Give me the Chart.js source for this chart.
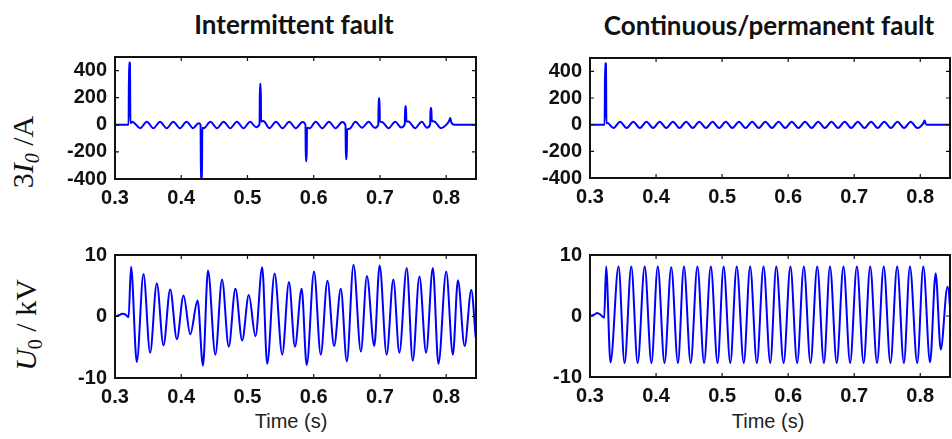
<!DOCTYPE html>
<html>
<head>
<meta charset="utf-8">
<script src="https://cdn.jsdelivr.net/npm/chart.js@4"></script>
<style>
body{margin:0;background:#fff;width:952px;height:439px;overflow:hidden;position:relative;font-family:"Liberation Sans",Arial,sans-serif;}
canvas{position:absolute;}
.ttl{position:absolute;font-family:Lato,"Open Sans",sans-serif;font-weight:700;font-size:26px;color:#111;transform:translate(-50%,-50%);white-space:nowrap;}
.ylab{position:absolute;font-family:"Liberation Serif","DejaVu Serif",serif;font-size:30px;color:#111;transform:translate(-50%,-50%) rotate(-90deg);white-space:nowrap;}
.ylab sub{font-size:20px;vertical-align:-6px;}
.xlab{position:absolute;font-size:20px;color:#222;transform:translate(-50%,-50%);white-space:nowrap;}
</style>
</head>
<body>
<div class="ttl" style="left:294px;top:24px">Intermittent fault</div>
<div class="ttl" style="left:769px;top:25px">Continuous/permanent fault</div>
<div class="ylab" style="left:25px;top:152px">3<i>I</i><sub><i>0</i></sub> /A</div>
<div class="ylab" style="left:28px;top:325px"><i>U</i><sub>0</sub> / kV</div>
<div class="xlab" style="left:291px;top:421px">Time (s)</div>
<div class="xlab" style="left:768px;top:421px">Time (s)</div>
<canvas id="c1" width="446" height="180" style="left:40px;top:37px"></canvas>
<canvas id="c2" width="445" height="178" style="left:515px;top:38px"></canvas>
<canvas id="c3" width="446" height="181" style="left:40px;top:235px"></canvas>
<canvas id="c4" width="445" height="180" style="left:515px;top:235px"></canvas>
<script>
// time axis ticks (s) and value ticks
const timeTicks=[0.3,0.4,0.5,0.6,0.7,0.8];
const currentTicks=[-400,-200,0,200,400];
const voltageTicks=[-10,0,10];

// 3I0 intermittent fault (A)
const tIA=[0.300,0.3205,0.3212,0.3226,0.3232,0.326,0.338,0.348,0.358,0.368,0.378,0.388,0.398,0.408,0.418,0.426,0.4292,0.4298,0.4312,0.4318,0.434,0.444,0.454,0.464,0.474,0.484,0.494,0.504,0.513,0.5182,0.5188,0.5200,0.5206,0.524,0.533,0.543,0.553,0.563,0.573,0.583,0.5875,0.5881,0.5893,0.5899,0.594,0.603,0.613,0.623,0.633,0.643,0.648,0.6486,0.6498,0.6504,0.654,0.663,0.673,0.683,0.692,0.6975,0.6981,0.6993,0.6999,0.703,0.713,0.723,0.732,0.7375,0.7381,0.7393,0.7399,0.743,0.753,0.763,0.771,0.7758,0.7764,0.7776,0.7782,0.782,0.792,0.801,0.8045,0.806,0.808,0.812,0.845];
const iA=[0,0,460,455,12,22,-25,22,-25,22,-25,22,-25,22,-25,12,0,-430,-430,-22,-25,22,-25,22,-25,22,-25,22,-18,5,300,300,25,28,-25,22,-25,22,-25,20,0,-268,-268,-22,-25,22,-25,22,-25,20,-5,-252,-252,-35,-30,22,-22,22,-22,0,195,195,25,20,-25,22,-20,5,136,136,25,25,-25,22,-22,5,123,123,28,25,-25,5,30,50,15,0,0];

// 3I0 continuous fault (A)
const tIB=[0.300,0.3222,0.3228,0.3242,0.3248,0.326,0.3355,0.3455,0.3555,0.3655,0.3755,0.3855,0.3955,0.4055,0.4155,0.4255,0.4355,0.4455,0.4555,0.4655,0.4755,0.4855,0.4955,0.5055,0.5155,0.5255,0.5355,0.5455,0.5555,0.5655,0.5755,0.5855,0.5955,0.6055,0.6155,0.6255,0.6355,0.6455,0.6555,0.6655,0.6755,0.6855,0.6955,0.7055,0.7155,0.7255,0.7355,0.7455,0.7555,0.7655,0.7755,0.7855,0.7955,0.8045,0.8065,0.808,0.810,0.845];
const iB=[0,0,460,455,10,15,-25,22,-25,22,-25,22,-25,22,-25,22,-25,22,-25,22,-25,22,-25,22,-25,22,-25,22,-25,22,-25,22,-25,22,-25,22,-25,22,-25,22,-25,22,-25,22,-25,22,-25,22,-25,22,-25,22,-25,10,32,8,0,0];

// U0 intermittent fault (kV)
const tUA=[0.300,0.306,0.311,0.316,0.3205,0.3242,0.3329,0.343,0.353,0.3631,0.3732,0.3833,0.3934,0.4035,0.4136,0.4247,0.4328,0.4404,0.4515,0.4616,0.4717,0.4818,0.492,0.502,0.5121,0.5222,0.5298,0.5409,0.5525,0.5626,0.5717,0.5818,0.5894,0.6005,0.6106,0.6207,0.6308,0.6409,0.650,0.6601,0.6712,0.6803,0.6914,0.6995,0.7101,0.7202,0.7293,0.7404,0.7495,0.7596,0.7697,0.7798,0.7883,0.800,0.8101,0.8177,0.8278,0.8379,0.8445];
const uA=[0,0.2,0.45,0.3,-0.1,8.1,-7.4,6.9,-5.9,5.4,-4.7,4.4,-3.7,3.4,-2.9,2.6,-8.0,7.5,-6.2,6.0,-4.9,4.5,-3.9,3.5,-3.2,8.0,-7.7,7.0,-6.2,5.6,-4.9,4.5,-7.9,7.3,-6.2,5.8,-4.8,4.5,-7.3,8.4,-5.7,6.6,-4.8,8.3,-6.2,6.0,-5.9,7.9,-7.2,6.5,-5.9,7.9,-7.7,7.3,-6.2,5.9,-4.8,4.3,-3.4];

// U0 continuous fault (kV)
const tUB=[0.300,0.306,0.311,0.316,0.3215,0.3244,0.331,0.3432,0.3523,0.3625,0.3721,0.3828,0.393,0.4026,0.4128,0.423,0.4331,0.4422,0.4524,0.4626,0.4727,0.4829,0.4931,0.5023,0.5124,0.5221,0.5328,0.5424,0.5526,0.5627,0.5729,0.582,0.5931,0.6034,0.6136,0.6237,0.6338,0.644,0.6541,0.6633,0.6735,0.6837,0.6938,0.704,0.7142,0.7242,0.7345,0.7447,0.7548,0.765,0.7752,0.7843,0.7954,0.8046,0.8148,0.8233,0.831,0.8412,0.8488];
const uB=[0,0.2,0.5,0.2,-0.3,8.1,-7.6,8.1,-7.7,8.1,-7.7,8.1,-7.7,8.1,-7.7,8.0,-7.7,8.1,-7.7,8.1,-7.7,8.1,-7.7,8.1,-7.7,8.1,-7.7,8.1,-7.7,8.1,-7.7,8.1,-7.7,8.1,-7.7,8.1,-7.7,8.1,-7.7,8.1,-7.7,8.1,-7.7,8.1,-7.7,8.1,-7.7,8.1,-7.7,8.1,-7.7,8.1,-7.7,8.1,-7.6,7.0,-5.5,4.8,-4.2];

Chart.defaults.font.family='"Liberation Sans", Arial, sans-serif';
Chart.defaults.font.size=20;
Chart.defaults.color='#111';

// matlab-like box with inward ticks
const boxPlugin={
    id:'box',
    afterDraw(chart){
        const {ctx,chartArea:a,scales}=chart;
        ctx.save();
        ctx.strokeStyle='#111';
        ctx.lineWidth=1.2;
        ctx.beginPath();
        scales.x.ticks.forEach(t=>{
            const px=scales.x.getPixelForValue(t.value);
            ctx.moveTo(px,a.bottom);ctx.lineTo(px,a.bottom-4);
            ctx.moveTo(px,a.top);ctx.lineTo(px,a.top+4);
        });
        scales.y.ticks.forEach(t=>{
            const py=scales.y.getPixelForValue(t.value);
            ctx.moveTo(a.left,py);ctx.lineTo(a.left+4,py);
            ctx.moveTo(a.right,py);ctx.lineTo(a.right-4,py);
        });
        ctx.stroke();
        ctx.lineWidth=2;
        ctx.strokeRect(a.left,a.top,a.right-a.left,a.bottom-a.top);
        ctx.restore();
    }
};

function makeChart(id,times,vals,yMin,yMax,yTicks,xHeight){
    const pts=times.map((t,i)=>({x:t,y:vals[i]}));
    return new Chart(document.getElementById(id),{
        type:'line',
        data:{datasets:[{
            data:pts,
            borderColor:'#0000ff',
            borderWidth:2,
            pointRadius:0,
            cubicInterpolationMode:'monotone'
        }]},
        options:{
            responsive:false,
            animation:false,
            layout:{padding:{top:10,right:10,left:0,bottom:0}},
            plugins:{legend:{display:false},tooltip:{enabled:false}},
            scales:{
                x:{
                    type:'linear',min:0.3,max:0.845,
                    grid:{display:false,drawTicks:false},border:{display:false},
                    afterBuildTicks:s=>{s.ticks=timeTicks.map(v=>({value:v}));},
                    ticks:{padding:7,maxRotation:0,font:{weight:'bold'},callback:v=>v.toFixed(1)},
                    afterFit:s=>{s.height=xHeight;}
                },
                y:{
                    min:yMin,max:yMax,
                    grid:{display:false,drawTicks:false},border:{display:false},
                    afterBuildTicks:s=>{s.ticks=yTicks.map(v=>({value:v}));},
                    ticks:{padding:8,font:{weight:'bold'},callback:v=>String(v)},
                    afterFit:s=>{s.width=75;}
                }
            }
        },
        plugins:[boxPlugin]
    });
}

makeChart('c1',tIA,iA,-400,500,currentTicks,38);
makeChart('c2',tIB,iB,-400,500,currentTicks,38);
makeChart('c3',tUA,uA,-10,10,voltageTicks,38);
makeChart('c4',tUB,uB,-10,10,voltageTicks,38);
</script>
</body>
</html>
